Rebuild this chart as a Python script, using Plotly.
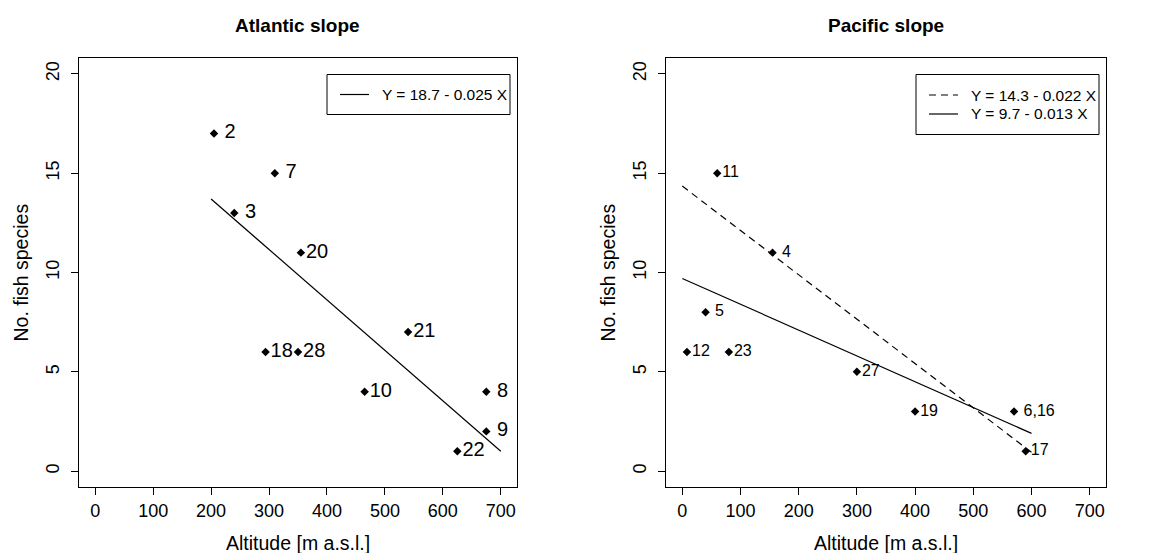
import plotly.graph_objects as go

# ---------------- data ----------------
atl_x = [205, 310, 240, 355, 540, 294, 350, 465, 675, 675, 625]
atl_y = [17, 15, 13, 11, 7, 6, 6, 4, 4, 2, 1]
atl_labels = [" 2", " 7", " 3", "20", "21", "18", "28", "10", " 8", " 9", "22"]
atl_fit_x = [200, 700]
atl_fit_y = [13.7, 1.0]
atl_fit_name = "Y = 18.7 - 0.025 X"

pac_x = [60, 155, 40, 8, 80, 300, 400, 570, 590]
pac_y = [15, 11, 8, 6, 6, 5, 3, 3, 1]
pac_labels = ["11", " 4", " 5", "12", "23", "27", "19", " 6,16", "17"]
pac_fit1_x = [0, 600]
pac_fit1_y = [14.35, 0.95]
pac_fit1_name = "Y = 14.3 - 0.022 X"
pac_fit2_x = [0, 600]
pac_fit2_y = [9.7, 1.9]
pac_fit2_name = "Y = 9.7 - 0.013 X"

x_ticks = [0, 100, 200, 300, 400, 500, 600, 700]
y_ticks = [0, 5, 10, 15, 20]
titles = ["Atlantic slope", "Pacific slope"]
x_title = "Altitude [m a.s.l.]"
y_title = "No. fish species"

# ---------------- figure ----------------
W, H = 1149, 553
FONT = "Liberation Sans, Arial, sans-serif"
TICK_SIZE = 18
LAB_SIZE = 19.5
DASH = "7px,5px"

def nb(s):
    return s.replace(" ", "\u00a0")

def px_x(v):
    return v / W

def px_y(v):
    return 1 - v / H

fig = go.Figure()

fig.add_trace(go.Scatter(
    x=atl_fit_x, y=atl_fit_y, mode="lines", name=atl_fit_name,
    line=dict(color="black", width=1.2), xaxis="x", yaxis="y",
    showlegend=False, hoverinfo="skip"))
fig.add_trace(go.Scatter(
    x=atl_x, y=atl_y, mode="markers+text", text=[nb(s) for s in atl_labels],
    textposition="middle right", textfont=dict(size=20, color="black", family=FONT),
    marker=dict(symbol="diamond", size=6.5, color="black"),
    xaxis="x", yaxis="y", showlegend=False))

fig.add_trace(go.Scatter(
    x=pac_fit1_x, y=pac_fit1_y, mode="lines", name=pac_fit1_name,
    line=dict(color="black", width=1.2, dash=DASH), xaxis="x2", yaxis="y2",
    showlegend=False, hoverinfo="skip"))
fig.add_trace(go.Scatter(
    x=pac_fit2_x, y=pac_fit2_y, mode="lines", name=pac_fit2_name,
    line=dict(color="black", width=1.2), xaxis="x2", yaxis="y2",
    showlegend=False, hoverinfo="skip"))
fig.add_trace(go.Scatter(
    x=pac_x, y=pac_y, mode="markers+text", text=[nb(s) for s in pac_labels],
    textposition="middle right", textfont=dict(size=16, color="black", family=FONT),
    marker=dict(symbol="diamond", size=6.5, color="black"),
    xaxis="x2", yaxis="y2", showlegend=False))

BOX_TOP, BOX_BOT = 50, 479
left_box = [71, 509]
right_box = [658, 1098]
left_dom = [px_x(left_box[0]), px_x(left_box[1])]
right_dom = [px_x(right_box[0]), px_x(right_box[1])]
y_dom = [px_y(BOX_BOT), px_y(BOX_TOP)]

def xax(domain, anchor):
    return dict(domain=domain, anchor=anchor, range=[-28, 728], tickmode="array",
                tickvals=x_ticks, ticktext=[str(v) for v in x_ticks],
                ticks="outside", ticklen=7, tickwidth=1, tickcolor="black",
                showline=True, linecolor="black", linewidth=1, mirror=True,
                showgrid=False, zeroline=False, automargin=False,
                tickfont=dict(size=TICK_SIZE, color="black", family=FONT))

def yax(anchor):
    return dict(domain=y_dom, anchor=anchor, range=[-0.8, 20.8], tickmode="array",
                tickvals=y_ticks, ticktext=[str(v) for v in y_ticks], tickangle=-90,
                ticks="outside", ticklen=7, tickwidth=1, tickcolor="black",
                ticklabelstandoff=5,
                showline=True, linecolor="black", linewidth=1, mirror=True,
                showgrid=False, zeroline=False, automargin=False,
                tickfont=dict(size=TICK_SIZE, color="black", family=FONT))

annotations = []
shapes = []
for dom, t, ylab_x in [(left_dom, titles[0], 13), (right_dom, titles[1], 600)]:
    cx = (dom[0] + dom[1]) / 2
    annotations.append(dict(text="<b>" + t + "</b>", x=cx, y=px_y(18), xref="paper", yref="paper",
                            xanchor="center", yanchor="middle", showarrow=False,
                            font=dict(size=19, color="black", family=FONT)))
    annotations.append(dict(text=x_title, x=cx, y=px_y(535), xref="paper", yref="paper",
                            xanchor="center", yanchor="middle", showarrow=False,
                            font=dict(size=LAB_SIZE, color="black", family=FONT)))
    annotations.append(dict(text=y_title, x=px_x(ylab_x), y=(y_dom[0] + y_dom[1]) / 2,
                            xref="paper", yref="paper", xanchor="center", yanchor="middle",
                            textangle=-90, showarrow=False,
                            font=dict(size=LAB_SIZE, color="black", family=FONT)))

# legends (R-style boxed legends in the top-right corner of each panel)
def add_legend(box_right, entries, height):
    right = box_right - 7
    left = right - 183
    top = BOX_TOP + 16.5
    shapes.append(dict(type="rect", xref="paper", yref="paper",
                       x0=px_x(left), x1=px_x(right), y0=px_y(top + height), y1=px_y(top),
                       line=dict(color="black", width=1), fillcolor="white", layer="above"))
    n = len(entries)
    row_h = 19
    first = top + height / 2 - (n - 1) * row_h / 2
    for i, (name, dash) in enumerate(entries):
        yc = first + i * row_h
        shapes.append(dict(type="line", xref="paper", yref="paper",
                           x0=px_x(left + 13), x1=px_x(left + 42), y0=px_y(yc), y1=px_y(yc),
                           line=dict(color="black", width=1.2, dash=dash), layer="above"))
        annotations.append(dict(text=name, x=px_x(left + 53), y=px_y(yc), xref="paper", yref="paper",
                                xanchor="left", yanchor="middle", showarrow=False,
                                font=dict(size=15.5, color="black", family=FONT)))

add_legend(left_box[1], [(atl_fit_name, "solid")], 40)
add_legend(right_box[1], [(pac_fit1_name, DASH), (pac_fit2_name, "solid")], 60)

fig.update_layout(
    width=W, height=H, autosize=False,
    margin=dict(l=0, r=0, t=0, b=0),
    paper_bgcolor="white", plot_bgcolor="white",
    font=dict(family=FONT, color="black"),
    xaxis=xax(left_dom, "y"), yaxis=yax("x"),
    xaxis2=xax(right_dom, "y2"), yaxis2=yax("x2"),
    annotations=annotations, shapes=shapes,
    showlegend=False,
)

fig.write_html("out.html")
